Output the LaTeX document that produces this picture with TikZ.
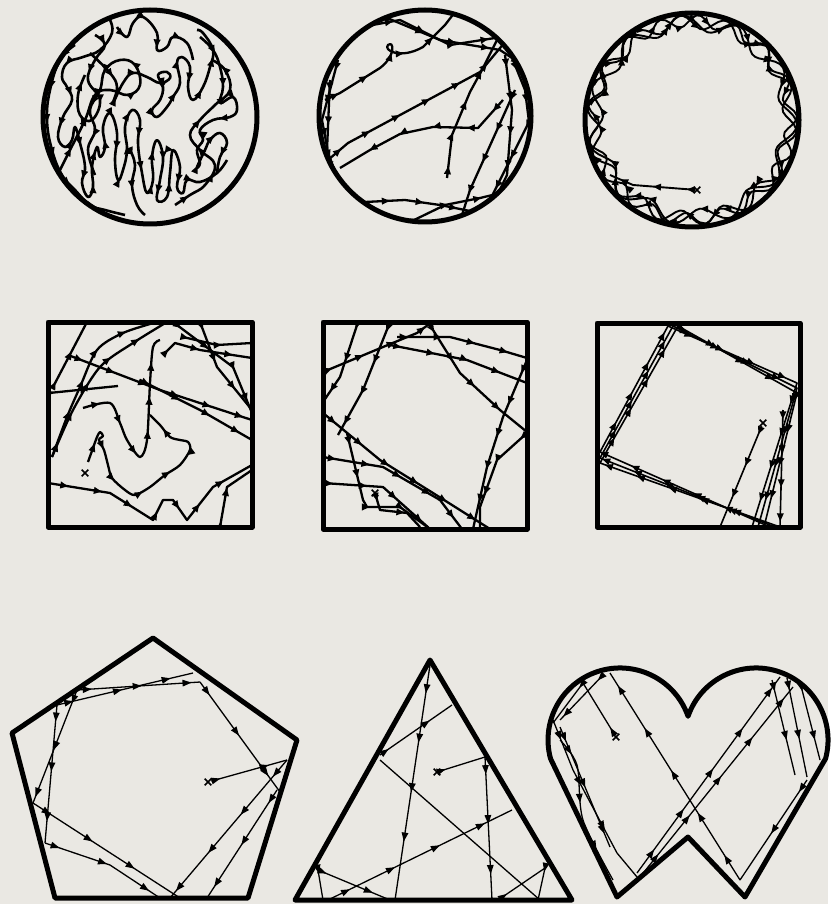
\documentclass[tikz,border=0pt]{standalone}
\usetikzlibrary{arrows.meta,decorations.markings,shapes.misc}

\begin{document}
\begin{tikzpicture}[x=1pt,y=-1pt,
    rim/.style={line width=5pt,line join=round},
    walk/.style={line width=#1,line join=round,postaction={decorate},
        decoration={markings,mark=between positions 0.08 and 0.97 step 34pt with {\arrow{Triangle[length=8pt,width=6.5pt]}}}},
    walk/.default=2.3pt,
    thinwalk/.style={line width=1.3pt,line join=round,postaction={decorate},
        decoration={markings,mark=between positions 0.12 and 0.95 step 50pt with {\arrow{Triangle[length=9pt,width=6.5pt]}}}},
    xmark/.style={cross out,draw,minimum size=5pt,inner sep=0pt,line width=1.6pt}]

    \definecolor{paper}{RGB}{234,232,227}

    \fill[paper] (0,0) rectangle (828,904);

    % circle 1: random walk
    \begin{scope}
        \clip (150,117) circle[radius=105];
        \draw[walk=2.6pt] plot[smooth,tension=0.7] coordinates {(110,20) (112,33) (100,50) (83,57) (67,63) (62,77) (67,87) (72,100) (63,117) (58,137) (65,147) (72,140) (75,127) (80,143) (85,167) (82,183) (88,197) (93,187) (92,167) (97,147) (100,157) (105,147) (103,127) (110,113) (117,133) (115,160) (118,180) (123,170) (127,150) (125,127) (132,110) (140,120) (138,143) (142,173) (147,193) (153,180) (152,157) (157,140) (163,157) (160,180) (157,200) (167,197) (170,173) (173,150) (180,167) (177,187) (183,193) (187,180) (200,182) (217,173) (227,160)};
        \draw[walk=2.6pt] plot[smooth,tension=0.7] coordinates {(90,53) (110,73) (117,87) (113,103) (123,83) (133,73) (147,77) (160,83) (170,78) (167,72) (158,75) (163,87) (160,100) (152,110) (157,117) (167,107) (173,97) (180,83) (177,63) (182,57) (190,67) (188,87) (193,100) (203,87) (210,67) (213,50) (203,33) (197,30)};
        \draw[walk=2.6pt] plot[smooth,tension=0.7] coordinates {(117,27) (127,37) (133,23) (143,17) (157,33) (157,50) (167,47) (173,37) (187,43) (193,60)};
        \draw[walk=2.6pt] plot[smooth,tension=0.7] coordinates {(200,37) (213,50) (220,67) (223,87) (220,103) (233,97) (237,110) (230,117) (213,120) (200,130) (203,140) (197,150) (200,163) (197,167) (205,150) (210,140) (220,133) (227,143) (220,157) (217,173)};
        \draw[walk=2.6pt] plot[smooth,tension=0.7] coordinates {(75,45) (60,60) (50,90) (47,120) (52,150) (62,175) (75,190) (90,205) (105,210) (125,215)};
        \draw[walk=2.6pt] plot[smooth,tension=0.7] coordinates {(60,170) (70,150) (85,120) (95,95) (110,90) (128,95) (140,85) (135,65) (120,60) (105,70) (100,90) (90,110) (95,130) (88,150) (95,175)};
        \draw[walk=2.6pt] plot[smooth,tension=0.7] coordinates {(175,205) (190,195) (205,185) (215,165) (200,150) (190,135) (200,120) (215,105) (230,90) (225,70) (212,60)};
        \draw[walk=2.6pt] plot[smooth,tension=0.7] coordinates {(95,35) (105,45) (95,60) (88,80) (100,100) (92,120) (80,115) (78,95) (85,75)};
        \draw[walk=2.6pt] plot[smooth,tension=0.7] coordinates {(130,150) (135,165) (132,185) (137,205) (145,215)};
    \end{scope}
    \draw[rim] (150,117) circle[radius=107];

    % circle 2: straight runs
    \begin{scope}
        \clip (425,116) circle[radius=104];
        \draw[walk] (328,160) -- (348,143) -- (480,72) -- (505,42);
        \draw[walk] (503,100) -- (478,128) -- (433,127) -- (400,134) -- (370,150) -- (340,168);
        \draw[walk] (447,178) -- (452,135) -- (470,92) -- (482,70) -- (497,40);
        \draw[walk] (325,100) -- (340,93) -- (380,68) .. controls (396,56) and (394,40) .. (388,45) .. controls (383,50) and (400,60) .. (423,47) -- (445,25) -- (455,12);
        \draw[walk] (380,15) -- (440,40) -- (500,50) -- (530,70);
        \draw[walk] (345,30) -- (400,20) -- (450,45) -- (495,38) -- (520,50);
        \draw[walk] (505,55) -- (512,110) -- (507,175) -- (495,200);
        \draw[walk] (515,90) -- (470,190) -- (462,215);
        \draw[walk] (530,120) -- (490,200) -- (480,215);
        \draw[walk] (345,203) -- (405,200) -- (440,205) -- (480,213);
        \draw[walk] (410,222) -- (445,205) -- (480,198) -- (505,192);
        \draw[walk] (330,80) -- (327,150) -- (340,185) -- (352,205);
        \draw[walk] (338,60) -- (322,120) -- (335,190);
        \draw[walk] (465,15) -- (505,40) -- (525,90) -- (530,130);
    \end{scope}
    \draw[rim] (425,116) circle[radius=106];

    % circle 3: walk along the wall
    \node[xmark] (x3) at (697,190) {};
    \begin{scope}
        \clip (692,120) circle[radius=105];
        \draw[walk=1.9pt] plot[samples=145,domain=0:360] ({692+(98+7*sin(14*\x))*cos(\x)},{120+(98+7*sin(14*\x))*sin(\x)});
        \draw[walk=1.9pt] plot[samples=145,domain=5:365] ({692+(97+8*sin(11*\x+60))*cos(\x)},{120+(97+8*sin(11*\x+60))*sin(\x)});
        \draw[walk=1.9pt] plot[samples=145,domain=10:370] ({692+(99+6*sin(17*\x+120))*cos(\x)},{120+(99+6*sin(17*\x+120))*sin(\x)});
        \draw[walk=1.9pt] (x3) -- (633,185) -- (610,175);
    \end{scope}
    \draw[rim] (692,120) circle[radius=107];

    % square 1
    \begin{scope}
        \clip (48,322) rectangle (252,527);
        \draw[walk] (49,393) -- (118,386);
        \draw[walk] (68,355) -- (160,390) -- (252,420);
        \draw[walk] (140,380) -- (200,410) -- (252,440);
        \draw[walk] (173,322) -- (233,367) -- (252,413);
        \draw[walk] (163,355) -- (175,343) -- (200,350) -- (252,358);
        \draw[walk] (200,322) -- (217,367) -- (252,410);
        \draw[walk] plot[smooth] coordinates {(52,457) (67,417) (80,387) (97,350) (123,333) (157,322)};
        \draw[walk] plot[smooth] coordinates {(52,457) (73,410) (100,367) (133,343) (167,322)};
        \draw[walk] (53,387) -- (87,322);
        \draw[walk] plot[smooth] coordinates {(83,408) (110,403) (120,423) (127,440) (140,457) (147,440) (150,383) (153,347) (160,340)};
        \draw[walk] plot[smooth] coordinates {(88,462) (93,448) (97,437) (100,432) (103,436) (99,440) (104,450) (108,465) (112,478) (125,490) (135,495) (150,487) (165,475) (180,465) (190,450) (188,442) (180,440) (170,437) (160,425) (150,415)};
        \draw[walk] (48,483) -- (110,493) -- (153,520) -- (163,500) -- (173,500) -- (187,520) -- (213,487) -- (252,465);
        \draw[walk] (220,527) -- (227,487) -- (252,470);
        \draw[walk] (183,337) -- (217,345) -- (252,343);
    \end{scope}
    \node[xmark] (x4) at (85,473) {};
    \draw[rim] (48,322) rectangle (252,527);

    % square 2
    \begin{scope}
        \clip (323,322) rectangle (527,529);
        \draw[walk] (358,322) -- (340,377) -- (323,402);
        \draw[walk] (390,322) -- (363,390) -- (338,435);
        \draw[walk] (428,322) -- (460,373) -- (500,410) -- (527,432);
        \draw[walk] (323,372) -- (383,347) -- (417,333) -- (432,322);
        \draw[walk] (397,337) -- (450,337) -- (500,350) -- (527,358);
        \draw[walk] (390,345) -- (467,360) -- (527,383);
        \draw[walk] (527,360) -- (503,417) -- (487,467) -- (473,529);
        \draw[walk] (527,433) -- (497,460) -- (480,507) -- (480,529);
        \draw[walk] (323,413) -- (380,460) -- (433,493) -- (490,529);
        \draw[walk] (323,457) -- (383,467) -- (440,500) -- (462,529);
        \draw[walk] (323,483) -- (383,487) -- (430,529);
        \draw[walk] (347,433) -- (363,500) -- (367,507) -- (400,507) -- (430,529);
    \end{scope}
    \node[xmark] (x5) at (375,493) {};
    \draw[walk] (x5) -- (380,510) -- (407,513) -- (420,527);
    \draw[rim] (323,322) rectangle (527,529);

    % square 3
    \begin{scope}
        \clip (597,323) rectangle (800,527);
        \draw[walk=1.6pt] (770,527) -- (600,452) -- (668,326) -- (797,383) -- (752,527);
        \draw[walk=1.6pt] (775,527) -- (600,458) -- (673,326) -- (797,388) -- (758,527);
        \draw[walk=1.6pt] (780,527) -- (600,463) -- (678,326) -- (797,393) -- (764,527);
        \draw[walk=1.6pt] (783,410) -- (780,527);
    \end{scope}
    \node[xmark] (x6) at (763,423) {};
    \draw[walk=1.6pt] (x6) -- (720,527);
    \draw[rim] (597,323) rectangle (800,527);

    % pentagon
    \begin{scope}
        \clip (153,638) -- (297,740) -- (248,898) -- (55,898) -- (12,733) -- cycle;
        \draw[thinwalk] (57,705) -- (193,673);
        \draw[thinwalk] (77,690) -- (200,682);
        \draw[thinwalk] (200,682) -- (280,792);
        \draw[thinwalk] (57,705) -- (45,843);
        \draw[thinwalk] (77,690) -- (33,803);
        \draw[thinwalk] (33,803) -- (180,898);
        \draw[thinwalk] (45,843) -- (110,865) -- (160,898);
        \draw[thinwalk] (287,760) -- (170,898);
        \draw[thinwalk] (277,790) -- (207,898);
    \end{scope}
    \node[xmark] (x7) at (208,782) {};
    \draw[thinwalk] (x7) -- (287,760);
    \draw[rim] (153,638) -- (297,740) -- (248,898) -- (55,898) -- (12,733) -- cycle;

    % triangle
    \begin{scope}
        \clip (430,660) -- (572,900) -- (295,900) -- cycle;
        \draw[thinwalk] (430,665) -- (395,900);
        \draw[thinwalk] (380,755) -- (452,705);
        \draw[line width=1.3pt] (380,760) -- (540,900);
        \draw[thinwalk] (485,757) -- (492,900);
        \draw[thinwalk] (318,870) -- (390,900);
        \draw[thinwalk] (318,870) -- (323,900);
        \draw[thinwalk] (328,900) -- (512,810);
        \draw[thinwalk] (498,900) -- (545,868) -- (538,900);
    \end{scope}
    \node[xmark] (x8) at (437,772) {};
    \draw[thinwalk] (x8) -- (485,757);
    \draw[rim] (430,660) -- (572,900) -- (295,900) -- cycle;

    % heart
    \begin{scope}
        \clip (617,897) -- (550.5,758.6) arc[start angle=165,end angle=340.8,radius=72] arc[start angle=199.2,end angle=375,radius=72] -- (745,897) -- (688,837) -- cycle;
        \draw[thinwalk] (740,880) -- (610,673);
        \draw[thinwalk] (637,873) -- (780,677);
        \draw[thinwalk] (640,877) -- (793,687);
        \draw[thinwalk] (787,678) -- (807,777);
        \draw[thinwalk] (800,682) -- (820,760);
        \draw[thinwalk] (772,680) -- (795,775);
        \draw[thinwalk] (807,780) -- (740,880);
        \draw[thinwalk] (603,675) -- (560,720);
        \draw[thinwalk] (560,727) -- (610,847);
        \draw[thinwalk] (553,720) -- (573,770) -- (617,853) -- (637,877);
        \draw[thinwalk] plot[smooth] coordinates {(560,740) (577,765) (583,820) (613,880)};
        \draw[thinwalk] (583,683) -- (553,723);
    \end{scope}
    \node[xmark] (x9) at (616,737) {};
    \draw[thinwalk] (x9) -- (583,683);
    \draw[rim] (617,897) -- (550.5,758.6) arc[start angle=165,end angle=340.8,radius=72] arc[start angle=199.2,end angle=375,radius=72] -- (745,897) -- (688,837) -- cycle;

\end{tikzpicture}
\end{document}
